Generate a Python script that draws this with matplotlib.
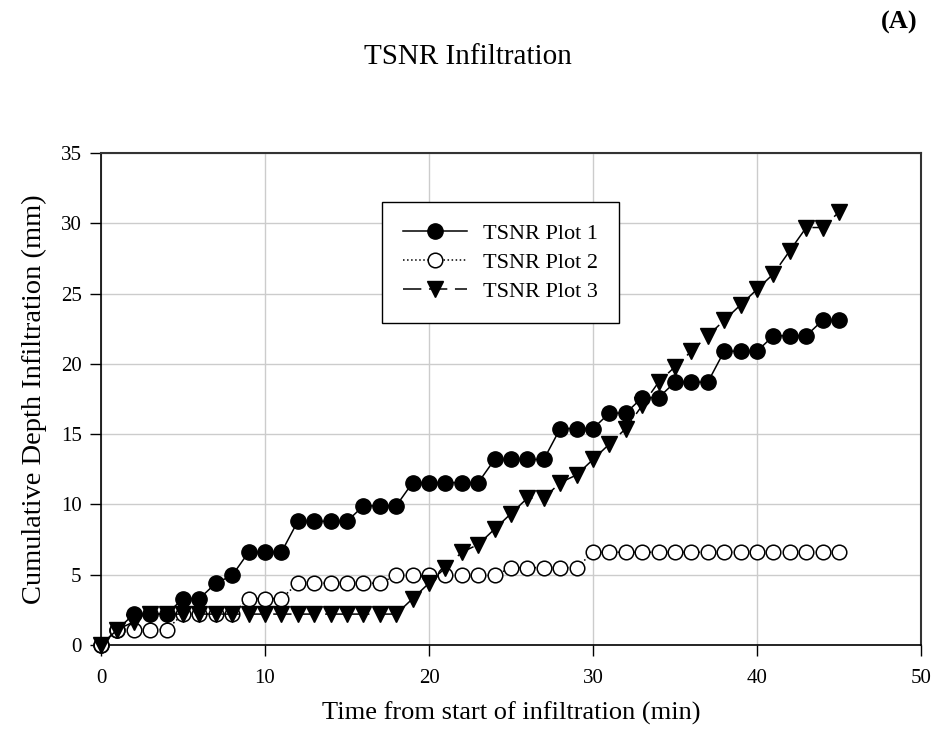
import matplotlib
matplotlib.use("Agg")
from matplotlib import pyplot as plt

plt.rcParams['font.family'] = ['Liberation Serif', 'DejaVu Serif']

# elapsed time (min) and cumulative infiltration depth (mm) for the three plots
time_min = list(range(0, 46))

plot_1 = [0.0, 1.1, 2.2, 2.2, 2.2, 3.3, 3.3, 4.4, 4.95, 6.6,
          6.6, 6.6, 8.8, 8.8, 8.8, 8.8, 9.9, 9.9, 9.9, 11.55,
          11.55, 11.55, 11.55, 11.55, 13.2, 13.2, 13.2, 13.2, 15.4, 15.4,
          15.4, 16.5, 16.5, 17.6, 17.6, 18.7, 18.7, 18.7, 20.9, 20.9,
          20.9, 22.0, 22.0, 22.0, 23.1, 23.1]

plot_2 = [0.0, 1.1, 1.1, 1.1, 1.1, 2.2, 2.2, 2.2, 2.2, 3.3,
          3.3, 3.3, 4.4, 4.4, 4.4, 4.4, 4.4, 4.4, 4.95, 4.95,
          4.95, 4.95, 4.95, 4.95, 4.95, 5.5, 5.5, 5.5, 5.5, 5.5,
          6.6, 6.6, 6.6, 6.6, 6.6, 6.6, 6.6, 6.6, 6.6, 6.6,
          6.6, 6.6, 6.6, 6.6, 6.6, 6.6]

plot_3 = [0.0, 1.1, 1.65, 2.2, 2.2, 2.2, 2.2, 2.2, 2.2, 2.2,
          2.2, 2.2, 2.2, 2.2, 2.2, 2.2, 2.2, 2.2, 2.2, 3.3,
          4.4, 5.5, 6.6, 7.15, 8.25, 9.35, 10.45, 10.45, 11.55, 12.1,
          13.2, 14.3, 15.4, 17.05, 18.7, 19.8, 20.9, 22.0, 23.1, 24.2,
          25.3, 26.4, 28.05, 29.7, 29.7, 30.8]

series_labels = ['TSNR Plot 1', 'TSNR Plot 2', 'TSNR Plot 3']

fig = plt.figure(figsize=(9.36, 7.45), dpi=100)
ax = fig.add_axes([0.1079, 0.1342, 0.8761, 0.6604])

ax.plot(time_min, plot_1, linestyle='-', color='black', linewidth=1.1,
        marker='o', markersize=11, markerfacecolor='black',
        markeredgecolor='black', label=series_labels[0], zorder=3,
        clip_on=False)
ax.plot(time_min, plot_2, linestyle=':', color='black', linewidth=1.1,
        marker='o', markersize=10.5, markerfacecolor='white',
        markeredgecolor='black', markeredgewidth=1.1,
        label=series_labels[1], zorder=3, clip_on=False)
ax.plot(time_min, plot_3, linestyle=(0, (12, 5)), color='black',
        linewidth=1.1, marker='v', markersize=11, markerfacecolor='black',
        markeredgecolor='black', label=series_labels[2], zorder=4,
        clip_on=False)

ax.set_xlim(0, 50)
ax.set_ylim(0, 35)
ax.set_xticks(range(0, 51, 10))
ax.set_yticks(range(0, 36, 5))
ax.grid(True, color='#cccccc', linewidth=1.0)
ax.set_axisbelow(True)

ax.tick_params(axis='both', direction='out', length=8, width=1.0,
               labelsize=15, color='black')
ax.tick_params(axis='x', pad=9)
ax.tick_params(axis='y', pad=6)
ax.tick_params(top=False, right=False)

for side in ['left', 'bottom']:
    ax.spines[side].set_linewidth(1.2)
    ax.spines[side].set_color('black')
for side in ['top', 'right']:
    ax.spines[side].set_linewidth(1.5)
    ax.spines[side].set_color('#333333')

ax.set_xlabel('Time from start of infiltration (min)', fontsize=19,
              labelpad=10)
ax.set_ylabel('Cumulative Depth Infiltration (mm)', fontsize=20.5,
              labelpad=10)

leg = ax.legend(loc='upper left', bbox_to_anchor=(0.343, 0.90),
                borderaxespad=0, numpoints=1, fontsize=16, handlelength=2.85,
                labelspacing=0.38, borderpad=0.95, handletextpad=0.75,
                fancybox=False, frameon=True, framealpha=1)
leg.get_frame().set_edgecolor('black')
leg.get_frame().set_linewidth(1.0)

fig.text(0.5, 0.923, 'TSNR Infiltration', ha='center', va='center',
         fontsize=21)
fig.text(0.98, 0.97, '(A)', ha='right', va='center', fontsize=19,
         fontweight='bold')

fig.savefig('out.png', dpi=100)
